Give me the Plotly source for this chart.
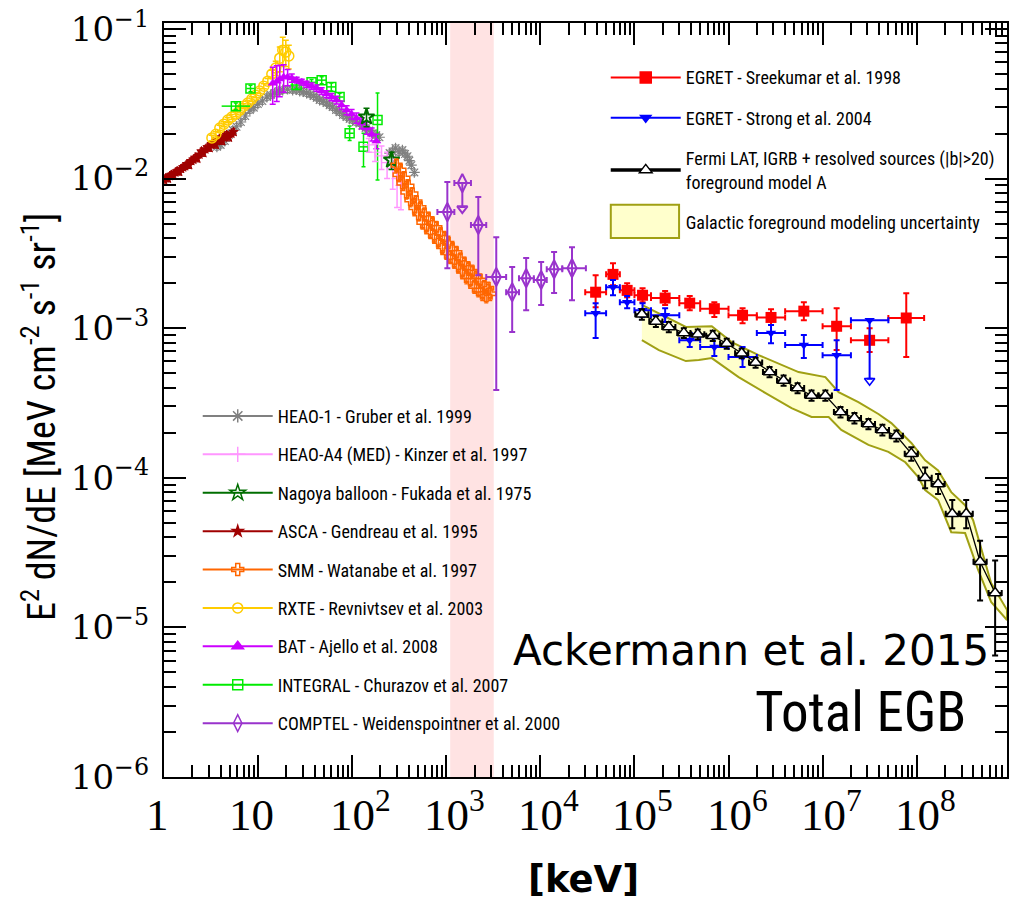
import math
import plotly.graph_objects as go

# ---------------- data: E [keV], E^2 dN/dE [MeV cm^-2 s^-1 sr^-1] ----------------
asca_e = [1.00, 1.05, 1.10, 1.15, 1.20, 1.26, 1.32, 1.38, 1.45, 1.52, 1.60, 1.68, 1.76, 1.85,
          1.95, 2.05, 2.15, 2.26, 2.38, 2.50, 2.62, 2.75, 2.90, 3.05, 3.20, 3.37, 3.55, 3.75,
          3.95, 4.15, 4.40, 4.65, 4.90, 5.20, 5.50]
asca_f = [0.0098, 0.0101, 0.0100, 0.0104, 0.0106, 0.0105, 0.0110, 0.0112, 0.0111, 0.0116, 0.0119,
          0.0121, 0.0125, 0.0123, 0.0131, 0.0134, 0.0138, 0.0136, 0.0145, 0.0152, 0.0148, 0.0157,
          0.0162, 0.0160, 0.0170, 0.0175, 0.0168, 0.0181, 0.0186, 0.0178, 0.0192, 0.0196, 0.0188,
          0.0200, 0.0205]

heao1_e = [3.65, 4.0, 4.43, 4.9, 5.39, 5.9, 6.56, 7.3, 8.17, 9.0, 9.93, 11.1, 12.4, 13.6, 15.0,
           16.6, 18.3, 20.6, 23.3, 25.4, 27.7, 30.2, 32.8, 35.8, 39.0, 42.0, 45.1, 49.2, 53.5,
           57.6, 62.0, 67.5, 73.5, 80.0, 87.3, 94, 101, 110, 120, 129, 139, 152, 165, 180, 195,
           250, 268, 289, 315, 342, 365, 387, 405, 426, 458]
heao1_f = [0.0163, 0.0168, 0.0178, 0.0196, 0.0211, 0.0222, 0.0239, 0.0262, 0.0287, 0.0298, 0.0315,
           0.0330, 0.0351, 0.0362, 0.0373, 0.0384, 0.0391, 0.0396, 0.0391, 0.0394, 0.0385, 0.0381,
           0.0373, 0.0366, 0.0356, 0.0347, 0.0335, 0.0329, 0.0320, 0.0309, 0.0301, 0.0287, 0.0278,
           0.0266, 0.0258, 0.0251, 0.0246, 0.0239, 0.0235, 0.0225, 0.0218, 0.0210, 0.0201, 0.0195,
           0.0189, 0.0148, 0.0152, 0.0160, 0.0150, 0.0155, 0.0146, 0.0141, 0.0132, 0.0123, 0.0110]

a4_e = [150, 175, 205, 235, 270, 300, 330]
a4_f = [0.0168, 0.0150, 0.0142, 0.0128, 0.0117, 0.0100, 0.0090]
a4_lo = [0.0150, 0.0130, 0.0115, 0.0100, 0.0085, 0.0064, 0.0062]
a4_hi = [0.0185, 0.0170, 0.0165, 0.0150, 0.0140, 0.0114, 0.0110]

nagoya_e = [142, 262]
nagoya_f = [0.0258, 0.0133]
nagoya_lo = [0.0222, 0.0115]
nagoya_hi = [0.0295, 0.0150]

smm_e = [296, 311, 326, 342, 359, 377, 396, 416, 437, 459, 482, 506, 531, 558, 586, 615, 646,
         678, 712, 748, 785, 824, 866, 909, 954, 1002, 1052, 1105, 1161, 1219, 1280, 1344, 1411,
         1482, 1556, 1634, 1715, 1801, 1892, 1986, 2085, 2190, 2299, 2414, 2535, 2662, 2795, 2935]
smm_f = [0.0123, 0.0106, 0.0114, 0.0093, 0.0101, 0.0081, 0.0089, 0.0072, 0.0079, 0.0064, 0.0070,
         0.0058, 0.0064, 0.0051, 0.0058, 0.0048, 0.0054, 0.0044, 0.0050, 0.0041, 0.0047, 0.0038,
         0.0043, 0.0035, 0.0040, 0.0032, 0.0037, 0.0030, 0.0034, 0.0028, 0.0032, 0.0026, 0.0029,
         0.0024, 0.0027, 0.0022, 0.0025, 0.0021, 0.0024, 0.0019, 0.0022, 0.0018, 0.0021, 0.0017,
         0.0019, 0.00164, 0.00185, 0.0017]

rxte_e = [3.23, 3.56, 3.92, 4.33, 4.77, 5.26, 5.80, 6.40, 7.05, 7.78, 8.58, 9.46, 10.4, 11.5,
          12.7, 14.0, 15.4, 17.0, 18.3, 19.7, 21.2]
rxte_f = [0.0187, 0.0198, 0.0218, 0.0231, 0.0246, 0.0258, 0.0270, 0.0287, 0.0305, 0.0320, 0.0340,
          0.0361, 0.0385, 0.0415, 0.0448, 0.0500, 0.0548, 0.0638, 0.0722, 0.0701, 0.0660]
rxte_df = [0.0008, 0.0008, 0.0009, 0.0009, 0.0010, 0.0010, 0.0011, 0.0011, 0.0012, 0.0012, 0.0013,
           0.0014, 0.0015, 0.0016, 0.0018, 0.0030, 0.0060, 0.0120, 0.0160, 0.0140, 0.0120]

bat_e = [14.3, 15.8, 17.0, 18.7, 20.6, 22.8, 25.7, 29.1, 32.8, 37.1, 41.9, 47.4, 53.5, 60.5, 68.3,
         77.2, 87.3, 98.6, 111, 126, 142, 161, 181]
bat_f = [0.0434, 0.0448, 0.0463, 0.0477, 0.0477, 0.0470, 0.0455, 0.0442, 0.0428, 0.0415, 0.0403,
         0.0385, 0.0367, 0.0351, 0.0335, 0.0310, 0.0287, 0.0270, 0.0254, 0.0235, 0.0218, 0.0198,
         0.0178]
bat_df = [0.012, 0.012, 0.011, 0.010, 0.006, 0.003, 0.002, 0.002, 0.002, 0.002, 0.002, 0.002,
          0.002, 0.002, 0.002, 0.002, 0.002, 0.002, 0.002, 0.002, 0.002, 0.002, 0.002]

integral_e = [5.8, 8.3, 25.7, 37.0, 47.4, 60.0, 73.5, 94.0, 132, 186]
integral_f = [0.0305, 0.0400, 0.0422, 0.0440, 0.0455, 0.0410, 0.0351, 0.0201, 0.0163, 0.0246]
integral_lo = [0.0290, 0.0380, 0.0400, 0.0420, 0.0430, 0.0385, 0.0330, 0.0180, 0.0120, 0.0098]
integral_hi = [0.0320, 0.0420, 0.0445, 0.0460, 0.0480, 0.0435, 0.0372, 0.0225, 0.0201, 0.0373]
integral_elo = [4.1, 7.5, 22, 33, 42, 54, 66, 85, 120, 170]
integral_ehi = [8.2, 9.2, 29, 41, 53, 67, 81, 104, 145, 205]

comptel_e = [1027, 1482, 2190, 3400, 5020, 7070, 10200, 14000, 21700]
comptel_f = [5.97e-3, 9.33e-3, 4.89e-3, 2.20e-3, 1.74e-3, 2.16e-3, 2.10e-3, 2.48e-3, 2.52e-3]
comptel_lo = [2.52e-3, 6.45e-3, 2.26e-3, 3.86e-4, 9.42e-4, 1.32e-3, 1.43e-3, 1.72e-3, 1.54e-3]
comptel_hi = [9.48e-3, 9.33e-3, 7.52e-3, 4.06e-3, 2.56e-3, 2.94e-3, 2.77e-3, 3.23e-3, 3.48e-3]
comptel_elo = [805, 1219, 1830, 2660, 4330, 5930, 8530, 11700, 17100]
comptel_ehi = [1219, 1830, 2660, 4330, 5930, 8530, 11700, 17100, 30500]
comptel_ul_e = [1482]
comptel_ul_f = [6.3e-3]

egret_elo = [3e4, 5e4, 7e4, 1e5, 1.5e5, 3e5, 5e5, 1e6, 2e6, 4e6, 1e7, 2e7, 5e7]
egret_ehi = [5e4, 7e4, 1e5, 1.5e5, 3e5, 5e5, 1e6, 2e6, 4e6, 1e7, 2e7, 5e7, 1.2e8]
egret_e = [3.87e4, 5.92e4, 8.37e4, 1.22e5, 2.12e5, 3.87e5, 7.07e5, 1.41e6, 2.83e6, 6.32e6,
           1.41e7, 3.16e7, 7.75e7]

sreek_f = [1.74e-3, 2.29e-3, 1.79e-3, 1.66e-3, 1.59e-3, 1.47e-3, 1.35e-3, 1.22e-3, 1.18e-3,
           1.30e-3, 1.03e-3, 8.3e-4, 1.17e-3]
sreek_lo = [1.38e-3, 1.94e-3, 1.61e-3, 1.49e-3, 1.43e-3, 1.32e-3, 1.19e-3, 1.08e-3, 1.05e-3,
            1.13e-3, 7.14e-4, 6.92e-4, 6.41e-4]
sreek_hi = [2.26e-3, 2.72e-3, 2.00e-3, 1.85e-3, 1.77e-3, 1.64e-3, 1.49e-3, 1.36e-3, 1.34e-3,
            1.49e-3, 1.36e-3, 1.00e-3, 1.71e-3]

strong_f = [1.26e-3, 1.88e-3, 1.49e-3, 1.32e-3, 1.22e-3, 8.3e-4, 7.48e-4, 6.41e-4, 9.27e-4,
            7.71e-4, 6.6e-4, 1.13e-3]
strong_lo = [8.59e-4, 1.66e-3, 1.36e-3, 1.19e-3, 1.10e-3, 7.48e-4, 6.52e-4, 5.5e-4, 7.94e-4,
             6.31e-4, 3.86e-4, 4.6e-4]
strong_hi = [1.47e-3, 2.10e-3, 1.64e-3, 1.47e-3, 1.36e-3, 9.27e-4, 8.73e-4, 7.48e-4, 1.05e-3,
             8.99e-4, 8.32e-4, 1.13e-3]
strong_ul_e = [3.16e7]
strong_ul_f = [4.45e-4]

fermi_e = [1.20e5, 1.69e5, 2.32e5, 3.35e5, 4.71e5, 6.80e5, 9.57e5, 1.38e6, 1.94e6, 2.73e6,
           3.85e6, 5.42e6, 7.63e6, 1.07e7, 1.55e7, 2.18e7, 3.07e7, 4.32e7, 6.08e7, 8.77e7,
           1.23e8, 1.69e8, 2.39e8, 3.36e8, 4.72e8, 6.82e8]
fermi_f = [1.24e-3, 1.11e-3, 1.02e-3, 9.3e-4, 9.1e-4, 8.9e-4, 7.9e-4, 6.8e-4, 5.9e-4, 5.1e-4,
           4.47e-4, 3.98e-4, 3.55e-4, 3.55e-4, 2.75e-4, 2.51e-4, 2.29e-4, 2.09e-4, 1.91e-4,
           1.45e-4, 1.0e-4, 9.1e-5, 5.75e-5, 5.75e-5, 2.75e-5, 1.70e-5]
fermi_lo = [1.14e-3, 1.02e-3, 9.4e-4, 8.6e-4, 8.4e-4, 8.2e-4, 7.3e-4, 6.3e-4, 5.45e-4, 4.7e-4,
            4.12e-4, 3.67e-4, 3.27e-4, 3.27e-4, 2.53e-4, 2.31e-4, 2.11e-4, 1.92e-4, 1.75e-4,
            1.30e-4, 8.5e-5, 7.8e-5, 4.6e-5, 4.6e-5, 1.51e-5, 6.5e-6]
fermi_hi = [1.34e-3, 1.20e-3, 1.10e-3, 1.00e-3, 9.8e-4, 9.6e-4, 8.5e-4, 7.3e-4, 6.35e-4, 5.5e-4,
            4.82e-4, 4.29e-4, 3.83e-4, 3.83e-4, 2.97e-4, 2.71e-4, 2.47e-4, 2.26e-4, 2.07e-4,
            1.60e-4, 1.17e-4, 1.06e-4, 7.1e-5, 7.1e-5, 3.8e-5, 2.8e-5]

# Galactic foreground uncertainty envelope (upper edge left->right, lower edge right->left)
band_up_e = [1.20e5, 3.52e5, 6.64e5, 1.08e6, 2.09e6, 5.55e6, 1.07e7, 1.48e7, 2.40e7, 3.92e7,
             5.38e7, 8.77e7, 1.23e8, 1.69e8, 2.33e8, 3.27e8, 3.98e8, 6.18e8, 9.12e8]
band_up_f = [1.43e-3, 1.02e-3, 1.03e-3, 8.07e-4, 6.61e-4, 5.09e-4, 4.71e-4, 3.74e-4, 3.21e-4,
             2.67e-4, 2.32e-4, 1.71e-4, 1.31e-4, 1.12e-4, 8.02e-5, 6.56e-5, 5.21e-5, 1.98e-5,
             1.31e-5]
band_lo_e = [9.12e8, 6.18e8, 4.50e8, 3.27e8, 2.33e8, 1.69e8, 1.23e8, 1.04e8, 7.57e7, 5.0e7,
             3.07e7, 1.58e7, 1.16e7, 7.63e6, 4.68e6, 2.48e6, 1.28e6, 6.64e5, 4.83e5, 3.52e5,
             1.82e5, 1.20e5]
band_lo_f = [1.12e-5, 1.48e-5, 2.42e-5, 4.27e-5, 4.33e-5, 7.1e-5, 8.28e-5, 1.01e-4, 1.27e-4,
             1.49e-4, 1.66e-4, 2.09e-4, 2.55e-4, 2.55e-4, 2.92e-4, 3.68e-4, 4.71e-4, 6.31e-4,
             6.12e-4, 6.03e-4, 7.14e-4, 8.32e-4]

mev_window = [1.1e3, 3.2e3]

x_tick_vals = [1, 10, 1e2, 1e3, 1e4, 1e5, 1e6, 1e7, 1e8]
x_tick_text = ["1", "10", "10<sup>2</sup>", "10<sup>3</sup>", "10<sup>4</sup>", "10<sup>5</sup>",
               "10<sup>6</sup>", "10<sup>7</sup>", "10<sup>8</sup>"]
y_tick_vals = [1e-6, 1e-5, 1e-4, 1e-3, 1e-2, 1e-1]
y_tick_text = ["10<sup>\u22126</sup>", "10<sup>\u22125</sup>", "10<sup>\u22124</sup>",
               "10<sup>\u22123</sup>", "10<sup>\u22122</sup>", "10<sup>\u22121</sup>"]

# ---------------- styling ----------------
NARROW = "Liberation Sans Narrow, Arial Narrow, Roboto Condensed, Liberation Sans, sans-serif"

C_HEAO1 = "rgb(128,128,128)"
C_A4 = "rgb(255,150,255)"
C_NAGOYA = "rgb(0,110,0)"
C_ASCA = "rgb(160,0,0)"
C_SMM = "rgb(255,102,0)"
C_RXTE = "rgb(255,204,0)"
C_BAT = "rgb(204,0,255)"
C_INTEGRAL = "rgb(0,235,0)"
C_COMPTEL = "rgb(153,51,204)"
C_SREEK = "rgb(255,0,0)"
C_STRONG = "rgb(0,0,255)"
C_BAND_FILL = "rgb(255,255,204)"
C_BAND_LINE = "rgb(160,160,20)"


def asym(vals, lo, hi):
    plus = [h - v for v, h in zip(vals, hi)]
    minus = [v - l for v, l in zip(vals, lo)]
    return plus, minus


def err_y(color, plus=None, minus=None, pct=None, width=3, thick=1.5):
    if pct is not None:
        return dict(type="percent", value=pct, color=color, thickness=thick, width=width)
    return dict(type="data", symmetric=False, array=plus, arrayminus=minus,
                color=color, thickness=thick, width=width)


fig = go.Figure()

# foreground modelling envelope
fig.add_trace(go.Scatter(
    x=band_up_e + band_lo_e, y=band_up_f + band_lo_f, fill="toself",
    fillcolor=C_BAND_FILL, mode="lines", line=dict(color=C_BAND_LINE, width=2),
    showlegend=False, hoverinfo="skip"))

# HEAO-1
fig.add_trace(go.Scatter(x=heao1_e, y=heao1_f, mode="markers", showlegend=False,
                         marker=dict(symbol="asterisk-open", size=9, color=C_HEAO1,
                                     line=dict(color=C_HEAO1, width=1.2)),
                         error_y=err_y(C_HEAO1, pct=5, width=2, thick=1)))
# ASCA
fig.add_trace(go.Scatter(x=asca_e, y=asca_f, mode="markers", showlegend=False,
                         marker=dict(symbol="star", size=7, color=C_ASCA,
                                     line=dict(color=C_ASCA, width=1)),
                         error_y=err_y(C_ASCA, pct=5, width=2, thick=1)))
# RXTE
p, m = asym(rxte_f, [f - d for f, d in zip(rxte_f, rxte_df)], [f + d for f, d in zip(rxte_f, rxte_df)])
fig.add_trace(go.Scatter(x=rxte_e, y=rxte_f, mode="markers", showlegend=False,
                         marker=dict(symbol="circle-open", size=10, color=C_RXTE,
                                     line=dict(color=C_RXTE, width=1.5)),
                         error_y=err_y(C_RXTE, p, m, width=3)))
# INTEGRAL
p, m = asym(integral_f, integral_lo, integral_hi)
xp, xm = asym(integral_e, integral_elo, integral_ehi)
fig.add_trace(go.Scatter(x=integral_e, y=integral_f, mode="markers", showlegend=False,
                         marker=dict(symbol="square-open", size=9, color=C_INTEGRAL,
                                     line=dict(color=C_INTEGRAL, width=1.5)),
                         error_y=err_y(C_INTEGRAL, p, m, width=2),
                         error_x=dict(type="data", symmetric=False, array=xp, arrayminus=xm,
                                      color=C_INTEGRAL, thickness=1.5, width=0)))
# BAT
p, m = asym(bat_f, [f - d for f, d in zip(bat_f, bat_df)], [f + d for f, d in zip(bat_f, bat_df)])
fig.add_trace(go.Scatter(x=bat_e, y=bat_f, mode="markers", showlegend=False,
                         marker=dict(symbol="triangle-up", size=8, color=C_BAT,
                                     line=dict(color=C_BAT, width=0.5)),
                         error_y=err_y(C_BAT, p, m, width=3)))
# HEAO-A4
p, m = asym(a4_f, a4_lo, a4_hi)
fig.add_trace(go.Scatter(x=a4_e, y=a4_f, mode="markers", showlegend=False,
                         marker=dict(symbol="cross-thin-open", size=8, color=C_A4,
                                     line=dict(color=C_A4, width=1.2)),
                         error_y=err_y(C_A4, p, m, width=3)))
# Nagoya balloon
p, m = asym(nagoya_f, nagoya_lo, nagoya_hi)
fig.add_trace(go.Scatter(x=nagoya_e, y=nagoya_f, mode="markers", showlegend=False,
                         marker=dict(symbol="star-open", size=12, color=C_NAGOYA,
                                     line=dict(color=C_NAGOYA, width=2)),
                         error_y=err_y(C_NAGOYA, p, m, width=3)))
# SMM
fig.add_trace(go.Scatter(x=smm_e, y=smm_f, mode="markers", showlegend=False,
                         marker=dict(symbol="cross-open", size=9, color=C_SMM,
                                     line=dict(color=C_SMM, width=1.5)),
                         error_y=err_y(C_SMM, pct=10, width=2, thick=1.2)))
# COMPTEL
p, m = asym(comptel_f, comptel_lo, comptel_hi)
xp, xm = asym(comptel_e, comptel_elo, comptel_ehi)
fig.add_trace(go.Scatter(x=comptel_e, y=comptel_f, mode="markers", showlegend=False,
                         marker=dict(symbol="diamond-tall-open", size=13, color=C_COMPTEL,
                                     line=dict(color=C_COMPTEL, width=2)),
                         error_y=err_y(C_COMPTEL, p, m, width=3, thick=2),
                         error_x=dict(type="data", symmetric=False, array=xp, arrayminus=xm,
                                      color=C_COMPTEL, thickness=2, width=3)))
fig.add_trace(go.Scatter(x=comptel_ul_e, y=comptel_ul_f, mode="markers", showlegend=False,
                         marker=dict(symbol="triangle-down-open", size=9, color=C_COMPTEL,
                                     line=dict(color=C_COMPTEL, width=2))))

# EGRET bins
xp, xm = asym(egret_e, egret_elo, egret_ehi)
p, m = asym(sreek_f, sreek_lo, sreek_hi)
fig.add_trace(go.Scatter(x=egret_e, y=sreek_f, mode="markers", showlegend=False,
                         marker=dict(symbol="square", size=11, color=C_SREEK),
                         error_y=err_y(C_SREEK, p, m, width=3, thick=2),
                         error_x=dict(type="data", symmetric=False, array=xp, arrayminus=xm,
                                      color=C_SREEK, thickness=2, width=3)))
p, m = asym(strong_f, strong_lo, strong_hi)
fig.add_trace(go.Scatter(x=egret_e[:12], y=strong_f, mode="markers", showlegend=False,
                         marker=dict(symbol="triangle-down", size=9, color=C_STRONG),
                         error_y=err_y(C_STRONG, p, m, width=3, thick=2),
                         error_x=dict(type="data", symmetric=False, array=xp[:12],
                                      arrayminus=xm[:12], color=C_STRONG, thickness=2, width=3)))
fig.add_trace(go.Scatter(x=strong_ul_e, y=strong_ul_f, mode="markers", showlegend=False,
                         marker=dict(symbol="triangle-down-open", size=9, color=C_STRONG,
                                     line=dict(color=C_STRONG, width=1.5))))

# Fermi LAT
p, m = asym(fermi_f, fermi_lo, fermi_hi)
fig.add_trace(go.Scatter(x=fermi_e, y=fermi_f, mode="lines+markers", showlegend=False,
                         line=dict(color="black", width=1.3),
                         marker=dict(symbol="triangle-up", size=11, color="white",
                                     line=dict(color="black", width=1.5)),
                         error_y=err_y("black", p, m, width=3, thick=2),
                         error_x=dict(type="percent", symmetric=False, value=17.5,
                                      valueminus=14.9, color="black", thickness=2, width=3)))

# ---------------- legend entries ----------------
def proxy(name, color, symbol, size, legend, rank, lw=2, mfill=None, mline=1.5, opacity=1):
    fig.add_trace(go.Scatter(
        x=[None], y=[None], mode="lines+markers", name=name, legend=legend,
        legendgroup="lg%d" % rank, legendrank=rank,
        line=dict(color=color, width=lw), opacity=opacity,
        marker=dict(symbol=symbol, size=size, color=mfill or color,
                    line=dict(color=color, width=mline))))


proxy("EGRET - Sreekumar et al. 1998", C_SREEK, "square", 11, "legend2", 1)
proxy("EGRET - Strong et al. 2004", C_STRONG, "triangle-down", 9, "legend2", 2)
proxy("Fermi LAT, IGRB + resolved sources (|b|&gt;20)<br>foreground model A", "black",
      "triangle-up", 11, "legend2", 3, lw=3.5, mfill="white", mline=1.5)
# the envelope's legend key is a filled box drawn as a shape beside this entry
proxy("Galactic foreground modeling uncertainty", C_BAND_LINE, "square", 1, "legend2", 4,
      lw=0.01, opacity=0.0)

proxy("HEAO-1 - Gruber et al. 1999", C_HEAO1, "asterisk-open", 11, "legend", 11)
proxy("HEAO-A4 (MED) - Kinzer et al. 1997", C_A4, "cross-thin-open", 11, "legend", 12)
proxy("Nagoya balloon - Fukada et al. 1975", C_NAGOYA, "star-open", 12, "legend", 13)
proxy("ASCA - Gendreau et al. 1995", C_ASCA, "star", 8, "legend", 14)
proxy("SMM - Watanabe et al. 1997", C_SMM, "cross-open", 10, "legend", 15)
proxy("RXTE - Revnivtsev et al. 2003", C_RXTE, "circle-open", 10, "legend", 16)
proxy("BAT - Ajello et al. 2008", C_BAT, "triangle-up", 10, "legend", 17)
proxy("INTEGRAL - Churazov et al. 2007", C_INTEGRAL, "square-open", 10, "legend", 18)
proxy("COMPTEL - Weidenspointner et al. 2000", C_COMPTEL, "diamond-tall-open", 12, "legend", 19)

# ---------------- axes ----------------
x_minor = [k * 10 ** p for p in range(0, 9) for k in range(2, 10)]
y_minor = [k * 10.0 ** p for p in range(-6, 0) for k in range(2, 10)]

fig.update_xaxes(type="log", range=[0, 8.96], showline=True, linecolor="black", linewidth=2,
                 mirror="allticks", ticks="inside", ticklen=22, tickwidth=2, tickcolor="black",
                 tickmode="array", tickvals=x_tick_vals, showticklabels=False,
                 showgrid=False, zeroline=False,
                 minor=dict(tickmode="array", tickvals=x_minor, ticks="inside", ticklen=12,
                            tickwidth=1.5, tickcolor="black", showgrid=False))
fig.update_yaxes(type="log", range=[-6, -0.96], showline=True, linecolor="black", linewidth=2,
                 mirror="allticks", ticks="inside", ticklen=22, tickwidth=2, tickcolor="black",
                 tickmode="array", tickvals=y_tick_vals, ticktext=y_tick_text,
                 tickfont=dict(family="DejaVu Serif", size=34, color="black"),
                 ticklabelstandoff=6, showgrid=False, zeroline=False,
                 minor=dict(tickmode="array", tickvals=y_minor, ticks="inside", ticklen=12,
                            tickwidth=1.5, tickcolor="black", showgrid=False))

annotations = []
for v, t in zip(x_tick_vals, x_tick_text):
    powered = "<sup>" in t
    annotations.append(dict(
        x=math.log10(v), xref="x", y=-0.086, yref="paper", text=t, showarrow=False,
        xanchor="left" if powered else "center", yanchor="bottom",
        xshift=-24 if powered else -7,
        font=dict(family="Liberation Serif", size=45, color="black")))

annotations += [
    dict(x=0.498, y=-0.136, xref="paper", yref="paper", text="<b>[keV]</b>", showarrow=False,
         xanchor="center", yanchor="middle",
         font=dict(family="DejaVu Sans", size=37, color="black")),
    dict(x=-0.149, y=0.478, xref="paper", yref="paper", textangle=-90, showarrow=False,
         text="E<sup>2</sup> dN/dE [MeV cm<sup>-2</sup> s<sup>-1</sup> sr<sup>-1</sup>]",
         xanchor="center", yanchor="middle", font=dict(family=NARROW, size=38, color="black")),
    dict(x=0.981, y=0.168, xref="paper", yref="paper", text="Ackermann et al. 2015",
         showarrow=False, xanchor="right", yanchor="middle",
         font=dict(family="DejaVu Sans", size=42, color="black")),
    dict(x=0.826, y=0.086, xref="paper", yref="paper", text="Total EGB", showarrow=False,
         xanchor="center", yanchor="middle", font=dict(family=NARROW, size=55, color="black")),
]

fig.update_layout(
    width=1009, height=900, margin=dict(l=164, r=0, t=23, b=123),
    plot_bgcolor="white", paper_bgcolor="white", showlegend=True,
    annotations=annotations,
    legend=dict(x=0.04, y=0.503, xanchor="left", yanchor="top", bgcolor="rgba(0,0,0,0)",
                borderwidth=0, itemwidth=70, traceorder="grouped", tracegroupgap=12,
                font=dict(family=NARROW, size=18, color="black")),
    legend2=dict(x=0.524, y=0.952, xanchor="left", yanchor="top", bgcolor="rgba(0,0,0,0)",
                 borderwidth=0, itemwidth=70, traceorder="grouped", tracegroupgap=14,
                 font=dict(family=NARROW, size=18, color="black")),
)

# shaded 1-3 MeV window
fig.add_vrect(x0=mev_window[0], x1=mev_window[1], fillcolor="rgba(255,0,0,0.11)",
              line_width=0, layer="below")
# legend key box for the envelope
fig.add_shape(type="rect", xref="paper", yref="paper", x0=0.530, x1=0.611, y0=0.715, y1=0.759,
              fillcolor=C_BAND_FILL, line=dict(color=C_BAND_LINE, width=2), layer="above")

fig.write_html("out.html")
